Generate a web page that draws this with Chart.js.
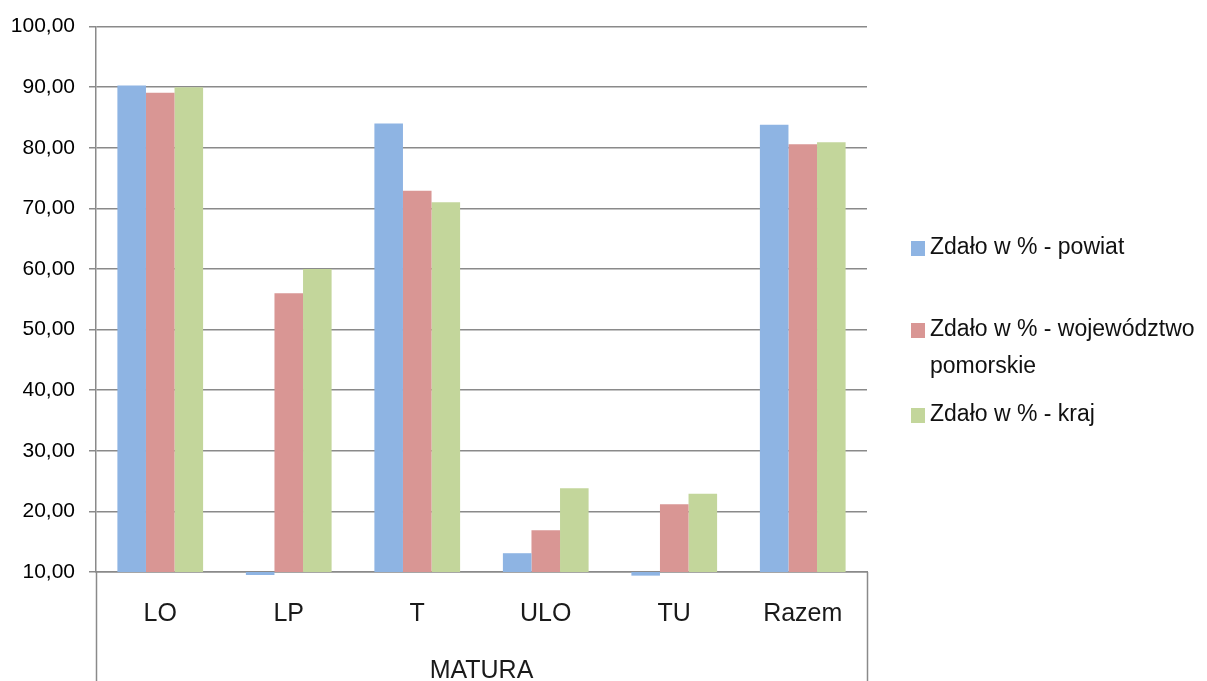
<!DOCTYPE html>
<html>
<head>
<meta charset="utf-8">
<script src="https://cdn.jsdelivr.net/npm/chart.js@4/dist/chart.umd.min.js"></script>
<style>
html,body{margin:0;padding:0;background:#fff;}
#wrap{position:relative;width:1207px;height:681px;}
</style>
</head>
<body>
<div id="wrap"><canvas id="c" width="1207" height="681"></canvas></div>
<script>
// ---- data ----
const categories = ["LO", "LP", "T", "ULO", "TU", "Razem"];
const seriesNames = ["Zdało w % - powiat", "Zdało w % - województwo pomorskie", "Zdało w % - kraj"];
const powiat    = [90.26, 9.5, 84.0, 13.1, 9.4, 83.8];
const pomorskie = [89.1, 56.0, 72.9, 16.9, 21.2, 80.6];
const kraj      = [90.0, 60.0, 71.0, 23.8, 22.9, 80.9];
const yTicks = [10, 20, 30, 40, 50, 60, 70, 80, 90, 100];
const axisMin = 10;
const axisTitle = "MATURA";

const colors = ["#8EB4E3", "#D99694", "#C3D69B"];
const AXIS = "#8a8a8a";
const FONT = "'Liberation Sans', Arial, sans-serif";

// bars start at the axis minimum (as in the original chart)
const fromAxis = arr => arr.map(v => [axisMin, v]);

const extras = {
  id: 'extras',
  afterDraw(chart) {
    const ctx = chart.ctx, a = chart.chartArea;
    ctx.save();
    ctx.strokeStyle = AXIS;
    ctx.lineWidth = 1.5;
    ctx.beginPath();
    const xl = Math.round(a.left) + 0.5, xr = Math.round(a.right) + 0.5;
    ctx.moveTo(xl, a.bottom); ctx.lineTo(xl, 681);
    ctx.moveTo(xr, a.bottom); ctx.lineTo(xr, 681);
    ctx.stroke();
    // legend
    const ys = [248, 330, 415];
    const lh = 37;
    ctx.font = "23px " + FONT;
    ctx.textBaseline = "middle";
    ctx.textAlign = "left";
    const maxW = 1207 - 930;
    chart.data.datasets.forEach((ds, i) => {
      ctx.fillStyle = ds.backgroundColor;
      ctx.fillRect(911, ys[i] - 7, 14, 15);
      const words = ds.label.split(' ');
      const lines = [];
      let cur = '';
      words.forEach(w => {
        const t = cur ? cur + ' ' + w : w;
        if (ctx.measureText(t).width > maxW && cur) { lines.push(cur); cur = w; }
        else cur = t;
      });
      lines.push(cur);
      ctx.fillStyle = "#111";
      lines.forEach((l, k) => ctx.fillText(l, 930, ys[i] + k * lh));
    });
    ctx.restore();
  }
};

new Chart(document.getElementById('c'), {
  type: 'bar',
  data: {
    labels: categories,
    datasets: [
      { label: seriesNames[0], data: fromAxis(powiat), backgroundColor: colors[0] },
      { label: seriesNames[1], data: fromAxis(pomorskie), backgroundColor: colors[1] },
      { label: seriesNames[2], data: fromAxis(kraj), backgroundColor: colors[2] }
    ]
  },
  options: {
    responsive: false,
    animation: false,
    clip: false,
    layout: { padding: { top: 24, right: 340, left: 0, bottom: 0 } },
    datasets: { bar: { barPercentage: 1, categoryPercentage: 0.667 } },
    plugins: { legend: { display: false }, tooltip: { enabled: false } },
    scales: {
      x: {
        grid: { display: false, drawTicks: false },
        border: { display: true, color: AXIS, width: 1.5 },
        ticks: { color: "#1a1a1a", font: { family: FONT, size: 25 }, padding: 27, maxRotation: 0 },
        title: { display: true, text: axisTitle, color: "#1a1a1a", font: { family: FONT, size: 25, lineHeight: 0.8 }, padding: 0 },
        afterFit(s) { s.height = 109; }
      },
      y: {
        min: 10, max: 100,
        afterBuildTicks(s) { s.ticks = yTicks.map(v => ({ value: v })); },
        grid: { color: AXIS, lineWidth: 1.5, tickLength: 7, drawTicks: true },
        border: { display: true, color: AXIS, width: 1.5 },
        ticks: {
          color: "#000",
          font: { family: FONT, size: 21 },
          padding: 14,
          callback: v => v.toFixed(2).replace('.', ',')
        },
        afterFit(s) { s.width = 96; }
      }
    }
  },
  plugins: [extras]
});
</script>
</body>
</html>
